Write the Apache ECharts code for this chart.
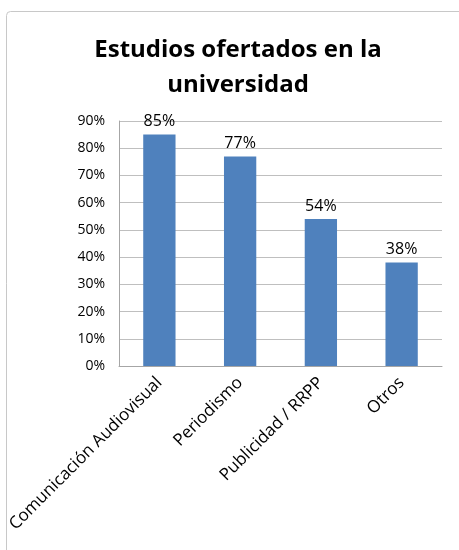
<!DOCTYPE html>
<html><head><meta charset="utf-8">
<script src="https://cdn.jsdelivr.net/npm/echarts@6/dist/echarts.min.js"></script>
<style>html,body{margin:0;padding:0;background:#fff}#c{width:459px;height:550px}</style>
</head><body><div id="c"></div>
<script>
const categories = ['Comunicación Audiovisual', 'Periodismo', 'Publicidad / RRPP', 'Otros'];
const values = [85, 77, 54, 38];
const yTicks = [0, 10, 20, 30, 40, 50, 60, 70, 80, 90];
const titleText = 'Estudios ofertados en la\nuniversidad';

const chart = echarts.init(document.getElementById('c'));
chart.setOption({
  animation: false,
  backgroundColor: '#fff',
  graphic: [{
    type: 'rect', shape: { x: 6.5, y: 11.5, width: 470, height: 560, r: 4 },
    style: { fill: 'none', stroke: '#c8c8c8', lineWidth: 1 }, z: -1
  }],
  title: {
    text: titleText, left: 233, top: 28, textAlign: 'center',
    textStyle: { fontFamily: 'Open Sans', fontWeight: 'bold', fontSize: 24, color: '#000', lineHeight: 35 }
  },
  grid: { left: 119, right: 17, top: 121, bottom: 184 },
  xAxis: {
    type: 'category', data: categories,
    axisLine: { lineStyle: { color: '#a6a6a6' } },
    axisTick: { show: false },
    axisLabel: { rotate: 45, interval: 0, fontFamily: 'Open Sans', fontSize: 17, color: '#000', margin: 14 }
  },
  yAxis: {
    type: 'value', min: yTicks[0], max: yTicks[yTicks.length - 1], interval: 10,
    axisLine: { show: true, lineStyle: { color: '#a6a6a6' } },
    axisTick: { show: false },
    splitLine: { lineStyle: { color: '#bfbfbf' } },
    axisLabel: { formatter: '{value}%', fontFamily: 'Open Sans', fontSize: 14, color: '#000', margin: 14 }
  },
  series: [{
    type: 'bar', data: values, barWidth: '40%',
    itemStyle: { color: '#4f81bd' },
    label: { show: true, position: 'top', formatter: '{c}%', fontFamily: 'Open Sans', fontSize: 16, color: '#000', distance: 5 }
  }]
});
</script></body></html>
